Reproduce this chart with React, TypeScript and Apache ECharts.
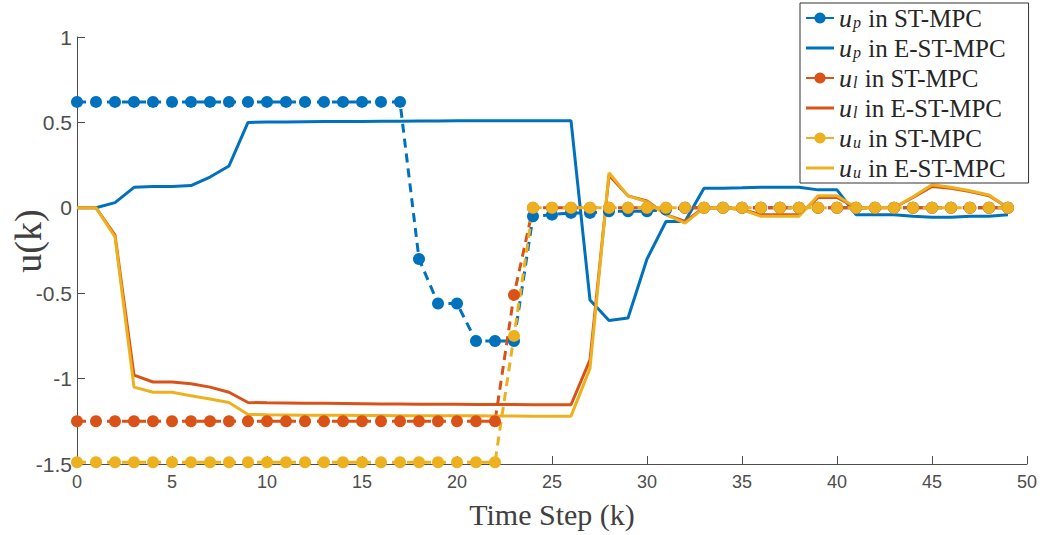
import React, { useEffect, useRef } from "react";
import * as echarts from "echarts";

// Time steps k = 0 … 49
const steps: number[] = [
  0, 1, 2, 3, 4, 5, 6, 7, 8, 9, 10, 11, 12, 13, 14, 15, 16, 17, 18, 19, 20, 21, 22, 23, 24,
  25, 26, 27, 28, 29, 30, 31, 32, 33, 34, 35, 36, 37, 38, 39, 40, 41, 42, 43, 44, 45, 46, 47, 48, 49,
];

// ST-MPC inputs
const upST: number[] = [
  0.62, 0.62, 0.62, 0.62, 0.62, 0.62, 0.62, 0.62, 0.62, 0.62, 0.62, 0.62, 0.62, 0.62, 0.62, 0.62, 0.62, 0.62,
  -0.3, -0.56, -0.56, -0.78, -0.78, -0.78,
  -0.05, -0.04, -0.03, -0.03, -0.02, -0.02, -0.02, -0.01,
  0, 0, 0, 0, 0, 0, 0, 0, 0, 0, 0, 0, 0, 0, 0, 0, 0, 0,
];
const ulST: number[] = [
  -1.25, -1.25, -1.25, -1.25, -1.25, -1.25, -1.25, -1.25, -1.25, -1.25, -1.25, -1.25, -1.25, -1.25, -1.25,
  -1.25, -1.25, -1.25, -1.25, -1.25, -1.25, -1.25, -1.25,
  -0.51,
  0, 0, 0, 0, 0, 0, 0, 0, 0, 0, 0, 0, 0, 0, 0, 0, 0, 0, 0, 0, 0, 0, 0, 0, 0, 0,
];
const uuST: number[] = [
  -1.49, -1.49, -1.49, -1.49, -1.49, -1.49, -1.49, -1.49, -1.49, -1.49, -1.49, -1.49, -1.49, -1.49, -1.49,
  -1.49, -1.49, -1.49, -1.49, -1.49, -1.49, -1.49, -1.49,
  -0.75,
  0, 0, 0, 0, 0, 0, 0, 0, 0, 0, 0, 0, 0, 0, 0, 0, 0, 0, 0, 0, 0, 0, 0, 0, 0, 0,
];

// E-ST-MPC inputs
const upE: number[] = [
  0, 0, 0.03, 0.12, 0.125, 0.125, 0.13, 0.18, 0.245, 0.5,
  0.502, 0.503, 0.504, 0.505, 0.505, 0.506, 0.507, 0.507, 0.508, 0.508, 0.509, 0.509, 0.51, 0.51, 0.51, 0.51, 0.51,
  -0.54, -0.66, -0.645, -0.3, -0.08, -0.08, 0.115, 0.115, 0.117, 0.12, 0.12, 0.12, 0.105, 0.105,
  -0.04, -0.04, -0.04, -0.05, -0.055, -0.055, -0.05, -0.05, -0.04,
];
const ulE: number[] = [
  0, 0, -0.16, -0.98, -1.02, -1.02, -1.03, -1.05, -1.08, -1.14,
  -1.142, -1.143, -1.144, -1.145, -1.146, -1.147, -1.148, -1.149, -1.15, -1.15, -1.15, -1.151, -1.152, -1.152,
  -1.153, -1.153, -1.153,
  -0.89,
  0.19, 0.07, 0.04, -0.04, -0.08, 0, 0, -0.01, -0.04, -0.04, -0.04, 0.06, 0.06, 0, 0, 0, 0.06, 0.125, 0.115,
  0.095, 0.07, 0,
];
const uuE: number[] = [
  0, 0, -0.17, -1.05, -1.08, -1.08, -1.1, -1.12, -1.14, -1.21,
  -1.212, -1.213, -1.214, -1.215, -1.215, -1.216, -1.216, -1.217, -1.217, -1.218, -1.218, -1.218, -1.219, -1.219,
  -1.22, -1.22, -1.22,
  -0.94,
  0.205, 0.07, 0.035, -0.04, -0.09, 0, 0, -0.01, -0.05, -0.05, -0.05, 0.07, 0.07, 0, 0, 0, 0.065, 0.135, 0.12,
  0.1, 0.075, 0,
];

const BLUE = "#0072BD";
const RED = "#D95319";
const YELLOW = "#EDB120";

const SERIF = "'Liberation Serif', 'Times New Roman', serif";
const SANS = "'Liberation Sans', Helvetica, Arial, sans-serif";

// plain line sample for the legend of solid-line series
const LINE_ICON = "path://M0,0 L28,0 L28,3 L0,3 Z";

const pairs = (vals: number[]) => steps.map((k, i) => [k, vals[i]]);

const legendNames: Record<string, string> = {
  upST: "{u|u}{s|p}{t| in ST-MPC}",
  upE: "{u|u}{s|p}{t| in E-ST-MPC}",
  ulST: "{u|u}{s|l}{t| in ST-MPC}",
  ulE: "{u|u}{s|l}{t| in E-ST-MPC}",
  uuST: "{u|u}{s|u}{t| in ST-MPC}",
  uuE: "{u|u}{s|u}{t| in E-ST-MPC}",
};

function stSeries(id: string, color: string, vals: number[]) {
  return {
    name: id,
    type: "line",
    data: pairs(vals),
    symbol: "circle",
    symbolSize: 12,
    showSymbol: true,
    itemStyle: { color },
    lineStyle: { color, width: 3, type: [9, 6] },
  };
}

function eSeries(id: string, color: string, vals: number[]) {
  return {
    name: id,
    type: "line",
    data: pairs(vals),
    symbol: "none",
    showSymbol: false,
    itemStyle: { color },
    lineStyle: { color, width: 3 },
  };
}

export default function App() {
  const ref = useRef<HTMLDivElement>(null);

  useEffect(() => {
    if (!ref.current) return;
    const chart = echarts.init(ref.current, undefined, { renderer: "svg" });
    chart.setOption({
      animation: false,
      backgroundColor: "#ffffff",
      grid: { left: 77, right: 21, top: 37, bottom: 71, containLabel: false, outerBoundsMode: "none" },
      graphic: [
        {
          type: "text",
          x: 28,
          y: 241,
          rotation: Math.PI / 2,
          style: {
            text: "u(k)",
            fontFamily: SERIF,
            fontSize: 38,
            fill: "#404040",
            textAlign: "center",
            textVerticalAlign: "middle",
          },
        },
      ],
      xAxis: {
        type: "value",
        min: 0,
        max: 50,
        interval: 5,
        name: "Time Step (k)",
        nameLocation: "middle",
        nameGap: 35,
        nameMoveOverlap: false,
        nameTextStyle: { fontFamily: SERIF, fontSize: 30, color: "#404040" },
        axisLine: { show: true, onZero: false, lineStyle: { color: "#4d4d4d", width: 1 } },
        axisTick: { show: true, inside: true, length: 8, lineStyle: { color: "#4d4d4d" } },
        axisLabel: { fontFamily: SANS, fontSize: 18, color: "#4d4d4d", margin: 9 },
        splitLine: { show: false },
      },
      yAxis: {
        type: "value",
        min: -1.5,
        max: 1,
        interval: 0.5,
        axisLine: { show: true, onZero: false, lineStyle: { color: "#4d4d4d", width: 1 } },
        axisTick: { show: true, inside: true, length: 8, lineStyle: { color: "#4d4d4d" } },
        axisLabel: { fontFamily: SANS, fontSize: 21, color: "#4d4d4d", margin: 5 },
        splitLine: { show: false },
      },
      legend: {
        orient: "vertical",
        left: 800,
        top: 3,
        padding: [2, 23, 2, 5],
        itemWidth: 28,
        itemHeight: 14,
        itemGap: 4,
        backgroundColor: "#ffffff",
        borderColor: "#333333",
        borderWidth: 1,
        borderRadius: 0,
        lineStyle: { type: "solid" },
        data: [
          { name: "upST" },
          { name: "upE", icon: LINE_ICON },
          { name: "ulST" },
          { name: "ulE", icon: LINE_ICON },
          { name: "uuST" },
          { name: "uuE", icon: LINE_ICON },
        ],
        formatter: (n: string) => legendNames[n],
        textStyle: {
          color: "#262626",
          fontFamily: SERIF,
          fontSize: 25,
          rich: {
            u: { fontFamily: SERIF, fontStyle: "italic", fontSize: 26, color: "#262626", lineHeight: 25 },
            s: {
              fontFamily: SERIF,
              fontStyle: "italic",
              fontSize: 16,
              color: "#262626",
              lineHeight: 25,
              verticalAlign: "bottom",
              padding: [9, 1, 0, 1],
            },
            t: { fontFamily: SERIF, fontSize: 25, color: "#262626", lineHeight: 25 },
          },
        },
      },
      series: [
        stSeries("upST", BLUE, upST),
        eSeries("upE", BLUE, upE),
        stSeries("ulST", RED, ulST),
        eSeries("ulE", RED, ulE),
        stSeries("uuST", YELLOW, uuST),
        eSeries("uuE", YELLOW, uuE),
      ],
    });
    return () => chart.dispose();
  }, []);

  return (
    <div
      ref={ref}
      style={{ position: "fixed", left: 0, top: 0, width: 1048, height: 535 }}
    />
  );
}
